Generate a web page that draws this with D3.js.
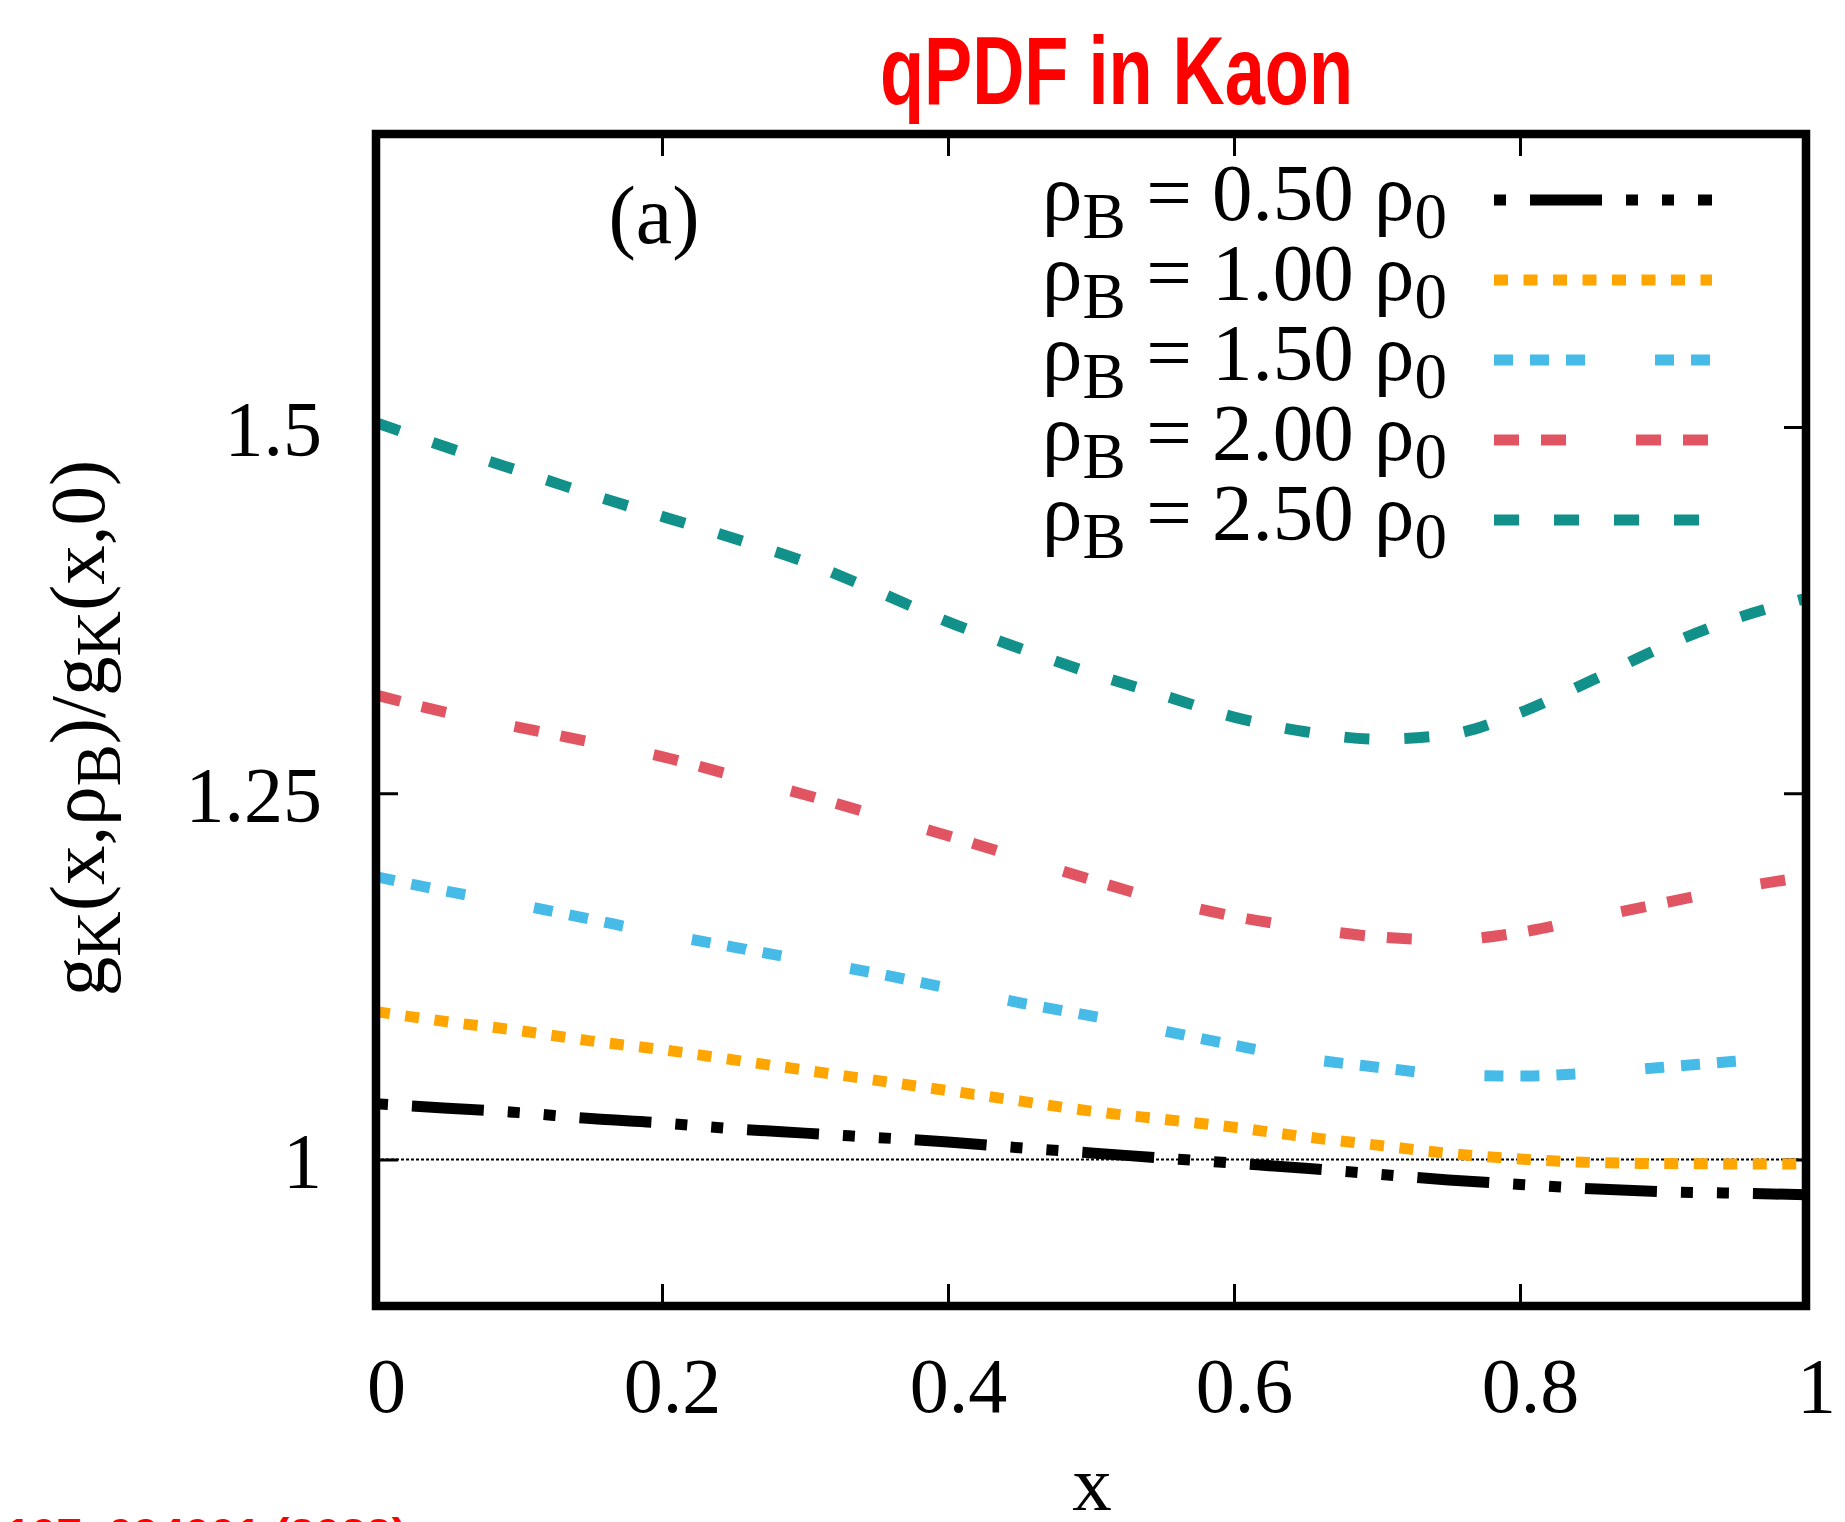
<!DOCTYPE html>
<html>
<head>
<meta charset="utf-8">
<script src="https://cdn.jsdelivr.net/npm/d3@7/dist/d3.min.js"></script>
<style>
  html, body { margin: 0; padding: 0; background: #fff; }
  svg { display: block; }
</style>
</head>
<body>
<script>
// ---------------- data ----------------
const xValues = [0, 0.05, 0.1, 0.15, 0.2, 0.25, 0.3, 0.35, 0.4, 0.45, 0.5,
                 0.55, 0.6, 0.65, 0.7, 0.75, 0.8, 0.85, 0.9, 0.95, 1.0];
const rho050 = [1.038, 1.035, 1.032, 1.028, 1.025, 1.021, 1.018, 1.015, 1.012, 1.008, 1.0045,
                1.001, 0.9975, 0.994, 0.990, 0.986, 0.983, 0.980, 0.978, 0.977, 0.976];
const rho100 = [1.101, 1.094, 1.088, 1.081, 1.075, 1.068, 1.061, 1.054, 1.047, 1.040, 1.033,
                1.0275, 1.022, 1.0155, 1.0098, 1.0042, 1.0003, 0.998, 0.9972, 0.997, 0.997];
const rho150 = [1.193, 1.183, 1.174, 1.164, 1.154, 1.145, 1.136, 1.127, 1.117, 1.107, 1.098,
                1.088, 1.078, 1.069, 1.063, 1.058, 1.057, 1.059, 1.063, 1.067, 1.071];
const rho200 = [1.317, 1.305, 1.295, 1.285, 1.275, 1.262, 1.249, 1.235, 1.221, 1.206, 1.191,
                1.177, 1.166, 1.158, 1.152, 1.150, 1.155, 1.165, 1.175, 1.185, 1.193];
const rho250 = [1.503, 1.486, 1.470, 1.454, 1.439, 1.424, 1.408, 1.388, 1.367, 1.349, 1.332,
                1.317, 1.302, 1.292, 1.287, 1.290, 1.305, 1.327, 1.350, 1.369, 1.383];
const seriesNames = ["0.50", "1.00", "1.50", "2.00", "2.50"];
const xTicks = [0, 0.2, 0.4, 0.6, 0.8, 1];
const xTickLabels = ["0", "0.2", "0.4", "0.6", "0.8", "1"];
const yTicks = [1, 1.25, 1.5];
const yTickLabels = ["1", "1.25", "1.5"];

// ---------------- styles ----------------
const seriesValues = [rho050, rho100, rho150, rho200, rho250];
const seriesColors = ["#000000", "#ffa500", "#47bbe8", "#e15563", "#12918a"];
const seriesDash = ["72,24,12,24,12,24", "14,15.5", "19,17,19,17,19,70", "25,22,25,70", "25,35"];
const seriesOffset = [132, 0, 0, 0, 0];

const W = 1845, H = 1522;
const L = 376, R = 1806, T = 134, B = 1306;
const serif = "'Liberation Serif', 'Times New Roman', serif";

const svg = d3.select("body").append("svg").attr("width", W).attr("height", H);

const x = d3.scaleLinear().domain([0, 1]).range([L, R]);
const y = d3.scaleLinear().domain([0.9, 1.7]).range([B, T]);

// title
svg.append("text")
  .attr("x", 880).attr("y", 104)
  .attr("textLength", 473).attr("lengthAdjust", "spacingAndGlyphs")
  .attr("font-family", "'Liberation Sans Narrow', 'Liberation Sans', sans-serif")
  .attr("font-weight", "bold").attr("font-size", 97)
  .attr("fill", "#ff0000")
  .text("qPDF in Kaon");

// clipped bottom-left reference
svg.append("text")
  .attr("x", 407).attr("y", 1551).attr("text-anchor", "end")
  .attr("font-family", "'Liberation Sans', Arial, sans-serif")
  .attr("font-weight", "bold").attr("font-size", 46)
  .attr("fill", "#ff0000")
  .text("PRD 107, 094001 (2022)");

// clip
svg.append("clipPath").attr("id", "plotclip")
  .append("rect").attr("x", L).attr("y", T).attr("width", R - L).attr("height", B - T);

// reference line y = 1
svg.append("line")
  .attr("x1", x(0)).attr("x2", x(1)).attr("y1", y(1)).attr("y2", y(1))
  .attr("stroke", "#000").attr("stroke-width", 2).attr("stroke-dasharray", "3,2");

// axes (ticks inward, all four sides)
const tickLen = 22;
const axB = d3.axisBottom(x).tickValues(xTicks).tickFormat((d, i) => xTickLabels[i]).tickSize(-tickLen).tickSizeOuter(0);
const axT = d3.axisTop(x).tickValues(xTicks).tickFormat("").tickSize(-tickLen).tickSizeOuter(0);
const axLf = d3.axisLeft(y).tickValues(yTicks).tickFormat((d, i) => yTickLabels[i]).tickSize(-tickLen).tickSizeOuter(0);
const axRt = d3.axisRight(y).tickValues(yTicks).tickFormat("").tickSize(-tickLen).tickSizeOuter(0);

function styleAxis(g) {
  g.select(".domain").remove();
  g.selectAll(".tick line").attr("stroke", "#000").attr("stroke-width", 3);
}
const gB = svg.append("g").attr("transform", `translate(0,${B})`).call(axB).call(styleAxis);
gB.selectAll(".tick text")
  .attr("font-family", serif).attr("font-size", 78).attr("fill", "#000")
  .attr("x", 10).attr("y", 1412 - B).attr("dy", null);
const gT = svg.append("g").attr("transform", `translate(0,${T})`).call(axT).call(styleAxis);
const gL = svg.append("g").attr("transform", `translate(${L},0)`).call(axLf).call(styleAxis);
gL.selectAll(".tick text")
  .attr("font-family", serif).attr("font-size", 78).attr("fill", "#000")
  .attr("text-anchor", "end").attr("x", 322 - L).attr("y", 27).attr("dy", null);
const gR = svg.append("g").attr("transform", `translate(${R},0)`).call(axRt).call(styleAxis);

// curves
const line = d3.line()
  .x((d, i) => x(xValues[i]))
  .y(d => y(d))
  .curve(d3.curveMonotoneX);

const curves = svg.append("g").attr("clip-path", "url(#plotclip)");
seriesValues.forEach((vals, k) => {
  curves.append("path")
    .attr("d", line(vals))
    .attr("fill", "none")
    .attr("stroke", seriesColors[k])
    .attr("stroke-width", 11)
    .attr("stroke-linecap", "butt")
    .attr("stroke-dasharray", seriesDash[k])
    .attr("stroke-dashoffset", seriesOffset[k]);
});

// frame
svg.append("rect")
  .attr("x", L).attr("y", T).attr("width", R - L).attr("height", B - T)
  .attr("fill", "none").attr("stroke", "#000").attr("stroke-width", 8.5);

// panel label
svg.append("text")
  .attr("x", 654).attr("y", 243).attr("text-anchor", "middle")
  .attr("font-family", serif).attr("font-size", 82).attr("fill", "#000")
  .text("(a)");

// legend
const legBase = [220, 300, 380, 460, 540];
seriesNames.forEach((name, k) => {
  const t = svg.append("text")
    .attr("x", 1447).attr("y", legBase[k]).attr("text-anchor", "end")
    .attr("font-family", serif).attr("font-size", 81).attr("fill", "#000");
  t.append("tspan").text("ρ");
  t.append("tspan").attr("font-size", 65).attr("dy", 18).text("B");
  t.append("tspan").attr("dy", -18).text(" = " + name + " ρ");
  t.append("tspan").attr("font-size", 65).attr("dy", 18).text("0");
  svg.append("line")
    .attr("x1", 1494).attr("x2", 1712)
    .attr("y1", legBase[k] - 20).attr("y2", legBase[k] - 20)
    .attr("stroke", seriesColors[k]).attr("stroke-width", 11)
    .attr("stroke-dasharray", seriesDash[k])
    .attr("stroke-dashoffset", seriesOffset[k]);
});

// y axis label
const yl = svg.append("text")
  .attr("transform", "translate(104,728) rotate(-90)")
  .attr("text-anchor", "middle")
  .attr("font-family", serif).attr("font-size", 79).attr("fill", "#000");
yl.append("tspan").text("g");
yl.append("tspan").attr("font-size", 63).attr("dy", 16).text("K");
yl.append("tspan").attr("dy", -16).text("(x,ρ");
yl.append("tspan").attr("font-size", 63).attr("dy", 16).text("B");
yl.append("tspan").attr("dy", -16).text(")/g");
yl.append("tspan").attr("font-size", 63).attr("dy", 16).text("K");
yl.append("tspan").attr("dy", -16).text("(x,0)");

// x axis label
svg.append("text")
  .attr("x", 1092).attr("y", 1510).attr("text-anchor", "middle")
  .attr("font-family", serif).attr("font-size", 79).attr("fill", "#000")
  .text("x");
</script>
</body>
</html>
